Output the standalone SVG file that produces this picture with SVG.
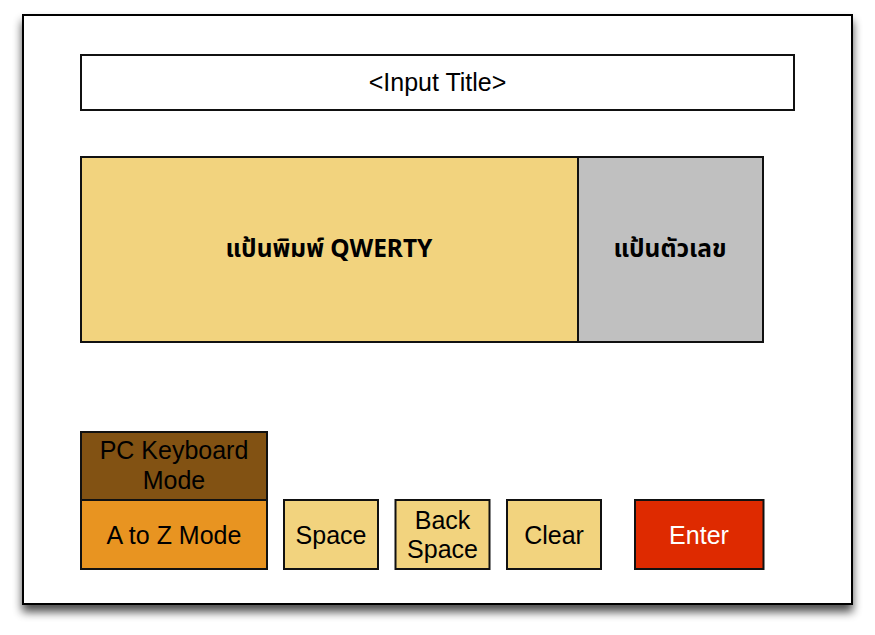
<svg xmlns="http://www.w3.org/2000/svg" width="875" height="635" viewBox="0 0 875 635">
<defs>
<filter id="sh" x="-10%" y="-10%" width="120%" height="125%">
<feGaussianBlur in="SourceAlpha" stdDeviation="5"/>
<feOffset dx="0" dy="7" result="b"/>
<feComponentTransfer><feFuncA type="linear" slope="0.7"/></feComponentTransfer>
<feMerge><feMergeNode/><feMergeNode in="SourceGraphic"/></feMerge>
</filter>
<style>
.b{stroke:#111;stroke-width:2}
.t{font-family:"Liberation Sans",Arial,sans-serif;font-size:25px;fill:#000;text-anchor:middle}
.th{font-family:"Noto Sans","Noto Sans Thai","DejaVu Sans",sans-serif;font-size:24.5px;font-weight:bold;fill:#000;text-anchor:middle}
</style>
</defs>
<rect width="875" height="635" fill="#fff"/>
<g id="frame"><rect x="23" y="15" width="829" height="589" fill="#fff" stroke="#000" stroke-width="2" filter="url(#sh)"/></g>
<g id="title"><rect class="b" x="81" y="55" width="713" height="55" fill="#fff"/><text class="t" x="437.5" y="91">&lt;Input Title&gt;</text></g>
<g id="qwerty"><rect class="b" x="81" y="157" width="497" height="185" fill="#F2D37E"/><text class="th" x="329" y="257">แป้นพิมพ์ QWERTY</text></g>
<g id="numpad"><rect class="b" x="578" y="157" width="185" height="185" fill="#C0C0C0"/><text class="th" x="670" y="257">แป้นตัวเลข</text></g>
<g id="pcmode"><rect class="b" x="81" y="432" width="186" height="68" fill="#825213"/><text class="t" x="174" y="459">PC Keyboard</text><text class="t" x="174" y="489">Mode</text></g>
<g id="azmode"><rect class="b" x="81" y="500" width="186" height="69" fill="#E89421"/><text class="t" x="174" y="544">A to Z Mode</text></g>
<g id="space"><rect class="b" x="284" y="500" width="94" height="69" fill="#F2D37E"/><text class="t" x="331" y="544">Space</text></g>
<g id="backspace"><rect class="b" x="395.5" y="500" width="94" height="69" fill="#F2D37E"/><text class="t" x="442.5" y="529">Back</text><text class="t" x="442.5" y="558">Space</text></g>
<g id="clear"><rect class="b" x="507" y="500" width="94" height="69" fill="#F2D37E"/><text class="t" x="554" y="544">Clear</text></g>
<g id="enter"><rect class="b" x="635" y="500" width="128.5" height="69" fill="#DE2A00"/><text class="t" x="699" y="544" style="fill:#fff">Enter</text></g>
<g id="connectors"></g>
</svg>
